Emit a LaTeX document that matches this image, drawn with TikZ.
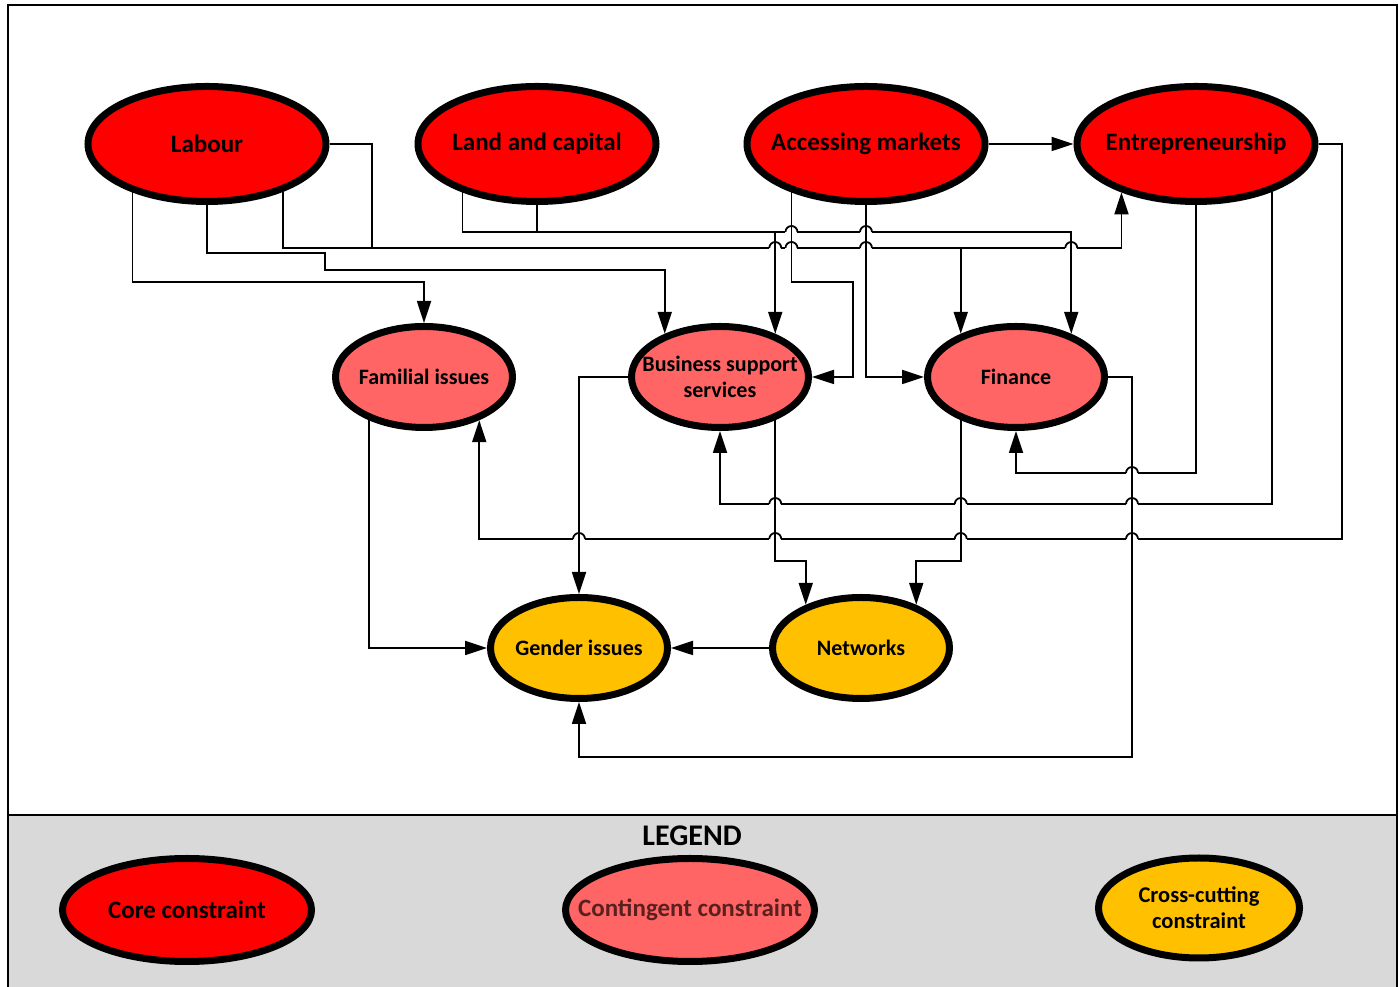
\documentclass[tikz,border=0pt]{standalone}
\usepackage{fontspec}
\setmainfont{Carlito}
\usepackage{xcolor}
\usepackage{tikz}
\usetikzlibrary{shapes,arrows.meta}

\definecolor{corered}{RGB}{255,0,0}
\definecolor{contred}{RGB}{255,101,101}
\definecolor{contdark}{RGB}{90,32,32}
\definecolor{crossgold}{RGB}{255,192,0}
\definecolor{legendgray}{RGB}{217,217,217}

\begin{document}
\begin{tikzpicture}[x=1pt, y=1pt,
        constraint/.style={ellipse, draw=black, line width=7pt, inner xsep=-30pt, inner ysep=0pt,
            align=center, font=\fontsize{25}{26}\selectfont\bfseries},
        core/.style={constraint, fill=corered, minimum width=238pt, minimum height=115pt},
        contingent/.style={constraint, fill=contred, minimum width=177pt, minimum height=101pt,
            font=\fontsize{22}{26}\selectfont\bfseries},
        crosscut/.style={constraint, fill=crossgold, minimum width=177pt, minimum height=101pt,
            font=\fontsize{22}{26}\selectfont\bfseries},
        wire/.style={line width=1.8pt},
        link/.style={wire, -{Triangle[length=22pt,width=14pt]}},
        pics/hop/.style={code={
            \fill[white] (-6,-1.7) rectangle (6,1.7);
            \draw[wire] (0,-2.5) -- (0,2.5);
            \draw[wire] (-6,0) arc (180:0:6);}}]

    \useasboundingbox (0,0) rectangle (1400,987);

    % frames
    \draw[line width=1.5pt] (8,172) rectangle (1397,982);
    \filldraw[fill=legendgray, line width=1.5pt] (8,-2) rectangle (1397,172);

    % core constraints
    \node[core] (lab) at (207,843) {Labour};
    \node[core] (lnd) at (537,843) {Land and capital};
    \node[core] (mkt) at (866,843) {Accessing markets};
    \node[core] (ent) at (1196,843) {Entrepreneurship};

    % contingent constraints
    \node[contingent] (fam) at (424,610) {Familial issues};
    \node[contingent] (bss) at (720,610) {Business support\\services};
    \node[contingent] (fin) at (1016,610) {Finance};

    % cross-cutting constraints
    \node[crosscut] (gen) at (579,339) {Gender issues};
    \node[crosscut] (net) at (861,339) {Networks};

    % links from the core
    \draw[link] (lab.213) |- (300,705) -| (fam.north);
    \draw[link] (lab.south) |- (325,734) |- (500,717) -| (bss.142);
    \draw[link] (lab.328) |- (900,739) -| (fin.142);
    \draw[link] (lab.east) -| (372,739) -| (ent.213);
    \draw[link] (lnd.213) |- (700,755) -| (bss.38);
    \draw[link] (lnd.south) |- (900,755) -| (fin.38);
    \draw[link] (mkt.213) |- (853,705) |- (bss.east);
    \draw[link] (mkt.south) |- (fin.west);
    \draw[link] (mkt.east) -- (ent.west);
    \draw[link] (ent.south) |- (1100,514) -| (fin.south);
    \draw[link] (ent.328) |- (1000,483) -| (bss.south);
    \draw[link] (ent.east) -| (1342,448) -| (fam.322);

    % links below
    \draw[link] (fam.218) |- (gen.west);
    \draw[link] (bss.west) -| (gen.north);
    \draw[link] (bss.322) |- (790,426) -| (net.142);
    \draw[link] (fin.218) |- (940,426) -| (net.38);
    \draw[link] (fin.east) -| (1132,230) -| (gen.south);
    \draw[link] (net.west) -- (gen.east);

    % line hops
    \foreach \v/\h in {mkt.213/755, mkt.213/739, mkt.south/755, mkt.south/739, bss.38/739,
            fin.38/739, fin.218/483, fin.218/448, bss.322/483, bss.322/448, gen.north/448}
        \pic at (\v |- 0,\h) {hop};
    \foreach \h in {514,483,448}
        \pic at (1132,\h) {hop};

    % legend
    \node[font=\fontsize{30}{32}\selectfont\bfseries] (legend) at (692,151) {LEGEND};
    \node[core, minimum width=249pt, minimum height=103pt] (lgcore) at (187,77) {Core constraint};
    \node[contingent, font=\fontsize{25}{26}\selectfont\bfseries, text=contdark, minimum width=249pt,
        minimum height=103pt] (lgcont) at (690,77) {Contingent constraint};
    \node[crosscut, font=\fontsize{22.5}{26}\selectfont\bfseries, minimum width=201pt,
        minimum height=100pt] (lgcross) at (1199,79) {Cross-cutting\\constraint};
\end{tikzpicture}
\end{document}
